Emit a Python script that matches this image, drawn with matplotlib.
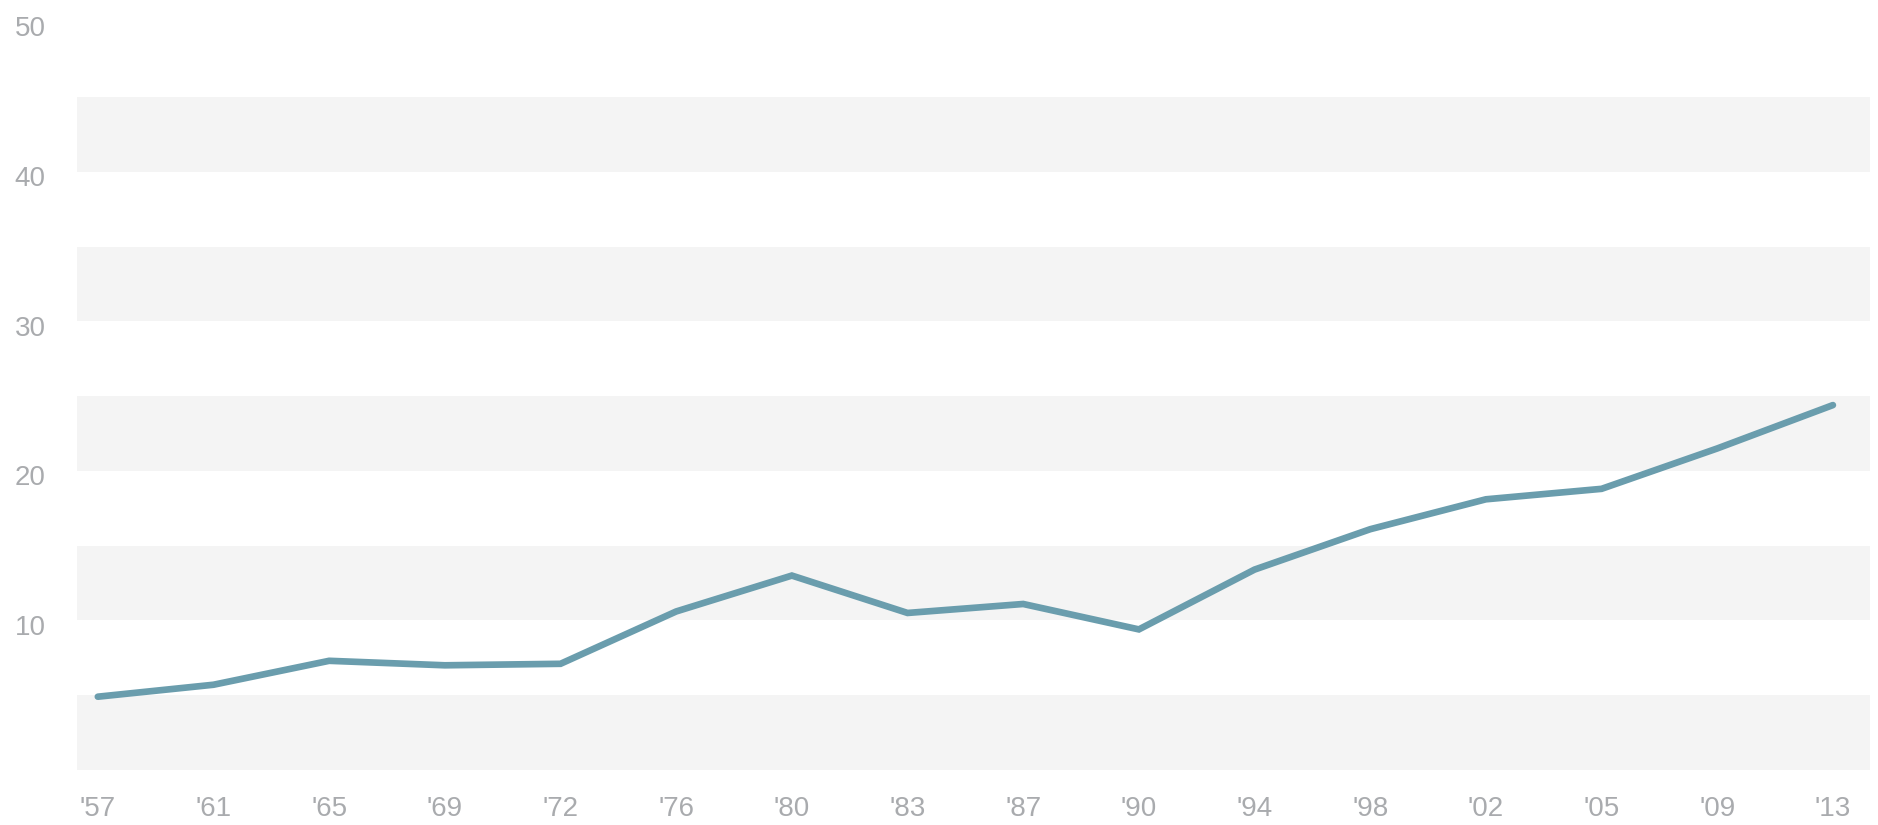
import matplotlib.pyplot as plt
import matplotlib.transforms as mtransforms

# 数据
years = ["'57", "'61", "'65", "'69", "'72", "'76", "'80", "'83",
         "'87", "'90", "'94", "'98", "'02", "'05", "'09", "'13"]
values = [4.9, 5.7, 7.3, 7.0, 7.1, 10.6, 13.0, 10.5,
          11.1, 9.4, 13.4, 16.1, 18.1, 18.8, 21.5, 24.4]
y_ticks = [10, 20, 30, 40, 50]
bands = [(0, 5), (10, 15), (20, 25), (30, 35), (40, 45)]

plt.rcParams['font.family'] = ['Liberation Sans', 'DejaVu Sans']

fig = plt.figure(figsize=(18.78, 8.25), dpi=100)
ax = fig.add_axes([0.041, 0.0667, 0.9547, 0.9063])

# 灰色条带
for lo, hi in bands:
    ax.axhspan(lo, hi, color='#f4f4f4', lw=0, zorder=0)

x = list(range(len(years)))
ax.plot(x, values, color='#6a9dad', lw=4.8, solid_capstyle='round',
        solid_joinstyle='miter', zorder=3)

ax.set_ylim(0, 50)
ax.set_xlim(-0.18, 15.32)
ax.set_yticks(y_ticks)
ax.set_yticklabels([str(v) for v in y_ticks], ha='left')
ax.set_xticks(x)
ax.set_xticklabels(years)
ax.tick_params(axis='y', length=0, pad=45, labelsize=20, labelcolor='#a9abae')
ax.tick_params(axis='x', length=0, pad=19, labelsize=20, labelcolor='#a9abae')

# y轴标签略微下移
shift = mtransforms.ScaledTranslation(0, -3 / 72, fig.dpi_scale_trans)
for lab in ax.get_yticklabels():
    lab.set_transform(lab.get_transform() + shift)

for s in ax.spines.values():
    s.set_visible(False)

fig.savefig('out.png', dpi=100, facecolor='white')
